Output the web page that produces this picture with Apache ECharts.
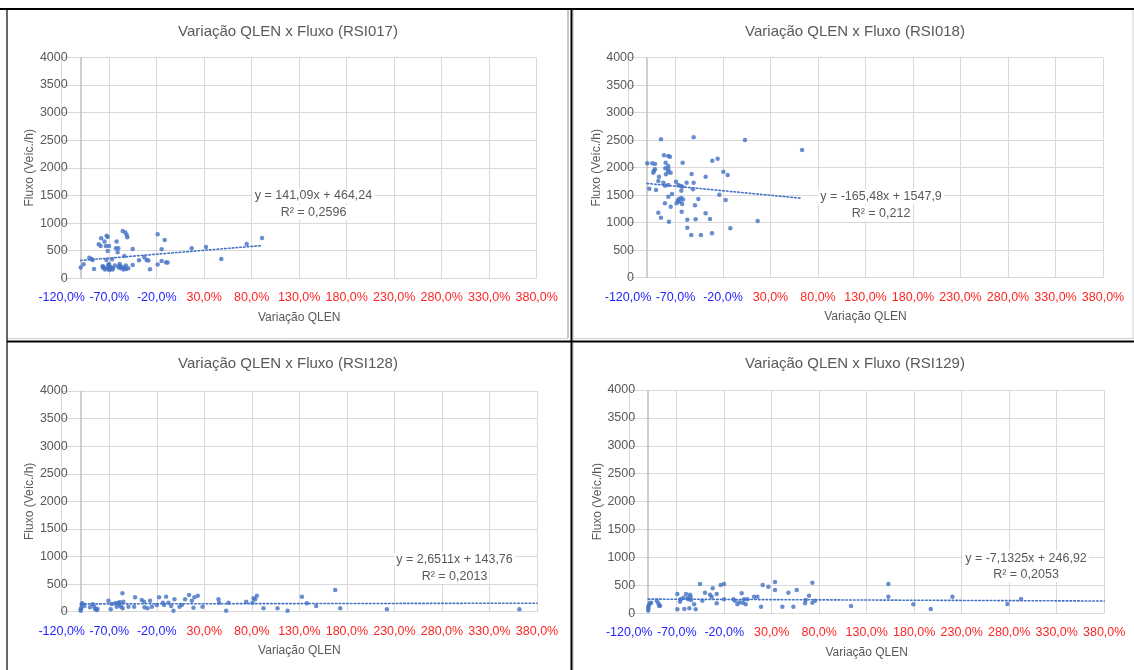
<!DOCTYPE html>
<html>
<head>
<meta charset="utf-8">
<script src="https://cdn.jsdelivr.net/npm/echarts@6/dist/echarts.min.js"></script>
<style>
  html, body { margin: 0; padding: 0; background: #ffffff; }
  #chart { width: 1134px; height: 670px; }
</style>
</head>
<body>
<div id="chart"></div>
<script>
// Variação QLEN (fraction) x Fluxo (veíc./h) for each RSI sensor
const rsi017 = [
  [-1.00,194],[-0.97,254],[-0.91,374],[-0.885,350],[-0.875,332],[-0.86,170],[-0.81,616],[-0.79,586],
  [-0.785,724],[-0.77,220],[-0.765,190],[-0.76,210],[-0.75,664],[-0.745,160],[-0.735,586],[-0.73,330],
  [-0.727,772],[-0.725,180],[-0.716,748],[-0.716,495],[-0.71,240],[-0.705,200],[-0.702,586],[-0.702,260],
  [-0.70,150],[-0.69,170],[-0.685,210],[-0.67,344],[-0.665,160],[-0.66,180],[-0.64,230],[-0.629,543],
  [-0.622,664],[-0.611,471],[-0.604,543],[-0.60,200],[-0.593,224],[-0.59,260],[-0.58,180],[-0.57,210],
  [-0.558,857],[-0.55,160],[-0.541,404],[-0.54,190],[-0.53,827],[-0.525,230],[-0.52,170],[-0.516,785],
  [-0.509,742],[-0.50,180],[-0.453,531],[-0.453,242],[-0.386,326],[-0.33,380],[-0.306,332],[-0.288,320],
  [-0.271,163],[-0.19,796],[-0.19,248],[-0.148,525],[-0.148,314],[-0.116,694],[-0.102,284],[-0.085,284],
  [0.168,543],[0.319,567],[0.48,350],[0.747,622],[0.909,730]
];
const rsi018 = [
  [-0.997,2079],[-0.976,1619],[-0.944,2079],[-0.934,1910],[-0.927,1946],[-0.916,2067],[-0.916,1970],[-0.905,1594],
  [-0.881,1758],[-0.881,1182],[-0.874,1837],[-0.853,1091],[-0.853,2516],[-0.828,1728],[-0.821,2225],[-0.811,1673],
  [-0.811,1352],[-0.807,1988],[-0.804,2091],[-0.80,1879],[-0.776,2213],[-0.776,2031],[-0.776,1970],[-0.776,1928],
  [-0.776,1685],[-0.776,1473],[-0.769,1019],[-0.758,2200],[-0.751,1910],[-0.751,1291],[-0.737,1522],[-0.695,1746],
  [-0.688,1352],[-0.677,1394],[-0.67,1685],[-0.665,1430],[-0.655,1380],[-0.646,1667],[-0.64,1450],[-0.639,1582],
  [-0.635,1200],[-0.63,1340],[-0.628,1655],[-0.625,2091],[-0.62,1420],[-0.583,1728],[-0.576,1055],[-0.576,910],
  [-0.534,776],[-0.53,1885],[-0.516,1607],[-0.509,1728],[-0.509,2552],[-0.495,1316],[-0.488,1061],[-0.46,1431],
  [-0.432,776],[-0.383,1837],[-0.383,1170],[-0.337,1067],[-0.316,807],[-0.313,2128],[-0.256,2164],[-0.239,1510],
  [-0.197,1928],[-0.172,1413],[-0.151,1867],[-0.123,898],[0.031,2503],[0.165,1031],[0.632,2322]
];
const rsi128 = [
  [-1.00,19],[-1.00,43],[-0.993,73],[-0.989,134],[-0.982,152],[-0.961,103],[-0.902,79],[-0.874,134],
  [-0.856,91],[-0.849,49],[-0.831,31],[-0.824,49],[-0.709,200],[-0.684,43],[-0.673,140],[-0.638,152],
  [-0.621,91],[-0.607,164],[-0.593,121],[-0.586,170],[-0.575,91],[-0.561,333],[-0.551,182],[-0.558,61],
  [-0.498,91],[-0.428,260],[-0.438,91],[-0.358,212],[-0.333,182],[-0.329,79],[-0.298,61],[-0.27,200],
  [-0.252,91],[-0.20,121],[-0.175,260],[-0.136,164],[-0.123,121],[-0.102,272],[-0.077,164],[-0.049,103],
  [-0.024,19],[-0.014,224],[0.039,91],[0.063,121],[0.098,224],[0.14,303],[0.169,200],[0.186,73],
  [0.196,260],[0.232,291],[0.281,91],[0.449,224],[0.456,164],[0.53,19],[0.555,164],[0.741,182],
  [0.807,164],[0.818,242],[0.835,224],[0.853,291],[0.923,61],[1.07,61],[1.176,19],[1.327,272],
  [1.379,152],[1.477,103],[1.677,393],[1.73,61],[2.221,43],[3.614,43]
];
const rsi129 = [
  [-1.00,48],[-1.00,119],[-0.998,89],[-0.991,149],[-0.981,179],[-0.97,191],[-0.91,227],[-0.893,179],
  [-0.886,137],[-0.875,137],[-0.693,346],[-0.693,71],[-0.665,209],[-0.658,251],[-0.63,280],[-0.62,77],
  [-0.602,346],[-0.588,268],[-0.577,251],[-0.567,89],[-0.56,334],[-0.553,298],[-0.549,239],[-0.517,161],
  [-0.50,71],[-0.454,525],[-0.43,227],[-0.402,370],[-0.349,334],[-0.332,298],[-0.321,448],[-0.279,346],
  [-0.279,179],[-0.237,507],[-0.202,525],[-0.202,251],[-0.103,251],[-0.086,227],[-0.061,161],[-0.04,197],
  [-0.016,358],[-0.005,191],[0.009,251],[0.026,161],[0.044,251],[0.114,298],[0.149,298],[0.188,119],
  [0.205,507],[0.265,477],[0.335,561],[0.335,418],[0.412,119],[0.476,370],[0.528,119],[0.563,418],
  [0.651,179],[0.658,239],[0.693,316],[0.728,549],[0.728,191],[0.756,227],[1.135,131],[1.528,525],
  [1.528,298],[1.791,161],[1.974,77],[2.202,298],[2.781,167],[2.925,257]
];

// Linear trend: [slope, intercept, R²] and the x span the trend line covers
const trend017 = [141.09, 464.24, 0.2596];
const trend018 = [-165.48, 1547.9, 0.212];
const trend128 = [2.6511, 143.76, 0.2013];
const trend129 = [-7.1325, 246.92, 0.2053];
const span017 = [-1.0, 0.909];
const span018 = [-1.0, 0.632];
const span128 = [-1.0, 3.8];
const span129 = [-1.0, 3.8];

const sensorNames = ['RSI017', 'RSI018', 'RSI128', 'RSI129'];
const xTickMin = -1.2, xTickMax = 3.8, xTickStep = 0.5;
const yTickMin = 0, yTickMax = 4000, yTickStep = 500;

const FONT = '"Liberation Sans", Arial, sans-serif';
const GREY = '#595959';
const GRID = '#d9d9d9';
const BLUE = '#4472C4';

const panels = [
  { pts: rsi017, trend: trend017, span: span017, grid: { left: 61.7, top: 57.3, width: 475, height: 221 },
    titleAt: [288, 31.7], eqAt: [313.5, 196] },
  { pts: rsi018, trend: trend018, span: span018, grid: { left: 628, top: 57.7, width: 475, height: 220 },
    titleAt: [855, 31.7], eqAt: [881, 196.7] },
  { pts: rsi128, trend: trend128, span: span128, grid: { left: 61.7, top: 391, width: 475.3, height: 220.7 },
    titleAt: [288, 364.3], eqAt: [454.5, 560] },
  { pts: rsi129, trend: trend129, span: span129, grid: { left: 629.2, top: 390, width: 475, height: 223.3 },
    titleAt: [855, 364.3], eqAt: [1026, 558.3] }
];

const pt = v => String(v).replace('.', ',');

const grids = [], xAxes = [], yAxes = [], series = [], graphics = [];

panels.forEach((p, i) => {
  grids.push(Object.assign({ containLabel: false }, p.grid));
  xAxes.push({
    gridIndex: i, type: 'value', min: xTickMin, max: xTickMax, interval: xTickStep,
    axisLine: { show: true, lineStyle: { color: GRID, width: 1 } },
    axisTick: { show: false },
    splitLine: { show: true, lineStyle: { color: GRID, width: 1 } },
    axisLabel: {
      margin: 13, fontFamily: FONT, fontSize: 12.5,
      formatter: v => {
        const s = (v * 100).toFixed(1).replace('.', ',') + '%';
        return v < 0 ? '{neg|' + s + '}' : '{pos|' + s + '}';
      },
      rich: {
        neg: { color: '#2424ff', fontFamily: FONT, fontSize: 12.5 },
        pos: { color: '#ff2424', fontFamily: FONT, fontSize: 12.5 }
      }
    },
    name: 'Variação QLEN', nameLocation: 'middle', nameGap: 33,
    nameTextStyle: { color: GREY, fontFamily: FONT, fontSize: 12 }
  });
  yAxes.push({
    gridIndex: i, type: 'value', min: yTickMin, max: yTickMax, interval: yTickStep,
    axisLine: { show: false }, axisTick: { show: false },
    splitLine: { show: true, lineStyle: { color: GRID, width: 1 } },
    axisLabel: { margin: -6, color: GREY, fontFamily: FONT, fontSize: 12.5, formatter: v => String(v) },
    name: 'Fluxo (Veíc./h)', nameLocation: 'middle', nameGap: 18, nameRotate: 90,
    nameTextStyle: { color: GREY, fontFamily: FONT, fontSize: 12 }
  });
  series.push({
    type: 'scatter', xAxisIndex: i, yAxisIndex: i, data: p.pts,
    symbolSize: 4.5, itemStyle: { color: BLUE }, z: 3,
    markLine: {
      silent: true, symbol: 'none', label: { show: false },
      lineStyle: { color: '#bfbfbf', width: 1.5, type: 'solid' },
      data: [{ xAxis: -1 }], z: 1
    }
  });
  const [a, b, r2] = p.trend;
  series.push({
    type: 'line', xAxisIndex: i, yAxisIndex: i, showSymbol: false, silent: true, z: 2,
    data: p.span.map(x => [x, a * x + b]),
    lineStyle: { color: BLUE, width: 1.6, type: [1.6, 2.2], cap: 'round' }
  });

  graphics.push({
    type: 'text', x: p.titleAt[0], y: p.titleAt[1],
    style: { text: 'Variação QLEN x Fluxo (' + sensorNames[i] + ')', align: 'center', verticalAlign: 'middle',
             fill: GREY, font: '15px ' + FONT }
  });
  const eq = 'y = ' + pt(a) + 'x + ' + pt(b);
  graphics.push({
    type: 'text', x: p.eqAt[0], y: p.eqAt[1], z: 50,
    style: { text: eq, align: 'center', verticalAlign: 'middle', fill: GREY, font: '12.5px ' + FONT,
             backgroundColor: '#ffffff', padding: [1, 2] }
  });
  graphics.push({
    type: 'text', x: p.eqAt[0], y: p.eqAt[1] + 16.5, z: 50,
    style: { text: 'R² = ' + pt(r2), align: 'center', verticalAlign: 'middle', fill: GREY, font: '12.5px ' + FONT,
             backgroundColor: '#ffffff', padding: [1, 2] }
  });
});

// Frame around the four panels
const frameLine = (x1, y1, x2, y2, stroke, w) => ({
  type: 'line', silent: true, z: 100,
  shape: { x1, y1, x2, y2 }, style: { stroke, lineWidth: w }
});
graphics.push(
  frameLine(7, 338.5, 568, 338.5, '#d0d0d0', 1),
  frameLine(574, 338.5, 1134, 338.5, '#d0d0d0', 1),
  frameLine(568, 9, 568, 338, '#8c8c8c', 1),
  frameLine(1133, 9, 1133, 338, '#d0d0d0', 1),
  frameLine(0, 9, 1134, 9, '#000000', 2),
  frameLine(7, 9, 7, 670, '#000000', 1.2),
  frameLine(571.5, 9, 571.5, 670, '#000000', 2),
  frameLine(573.5, 10, 573.5, 670, '#d9d9d9', 1),
  frameLine(7, 341.5, 1134, 341.5, '#000000', 2)
);

const chart = echarts.init(document.getElementById('chart'), null, { renderer: 'canvas' });
chart.setOption({
  animation: false,
  backgroundColor: '#ffffff',
  textStyle: { fontFamily: FONT },
  grid: grids, xAxis: xAxes, yAxis: yAxes, series, graphic: graphics
});
</script>
</body>
</html>
